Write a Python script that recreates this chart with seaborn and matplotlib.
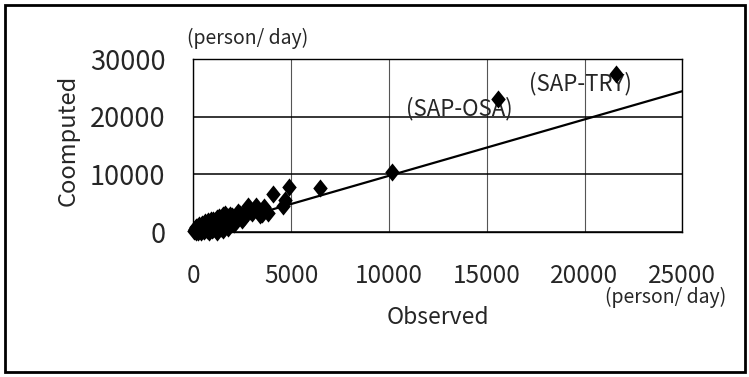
import numpy as np
import pandas as pd
import matplotlib
matplotlib.use("Agg")
import matplotlib.pyplot as plt
import seaborn as sns
from matplotlib.patches import Rectangle
from matplotlib.path import Path

# ---- data ----
observed = [50, 80, 100, 120, 150, 200, 200, 250, 300, 300, 350, 400, 400, 450,
            500, 500, 550, 600, 600, 700, 700, 750, 800, 800, 900, 900, 950,
            1000, 1000, 1100, 1100, 1150, 1200, 1200, 1300, 1300, 1400, 1400,
            1500, 1500, 1600, 1600, 1700, 1700, 1800, 1800, 1900, 2000, 2000,
            2100, 2200, 2300, 2400, 2500, 2600, 2700, 2800, 2900, 3000, 3200,
            3300, 3400, 3500, 3600, 3800, 4100, 4600, 4700, 4900, 6500, 10150,
            15600, 21600]
computed = [200, 600, 400, 100, 900, 300, 900, 50, 1200, 700, 500, 100, 1100, 1500,
            800, 300, 200, 1300, 1800, 400, 1000, 1900, 1000, 0, 1600, 2200, 300,
            2100, 600, 1200, 1900, 600, 2500, 100, 1700, 2700, 800, 1500,
            2900, 300, 2000, 3200, 1200, 2300, 2600, 700, 3000, 1800, 2800,
            1500, 2400, 3500, 3200, 2200, 2600, 3700, 4600, 3600, 3400, 4600,
            3900, 2900, 3100, 4300, 3300, 6700, 4600, 5600, 7800, 7700, 10500,
            23100, 27400]
fit_x = [0, 25000]
fit_slope = 0.977
labels = ["(SAP-OSA)", "(SAP-TRY)"]
label_x = [13600, 19800]
label_y = [21400, 25700]
x_ticks = [0, 5000, 10000, 15000, 20000, 25000]
y_ticks = [0, 10000, 20000, 30000]
unit = "(person/ day)"

df = pd.DataFrame({"Observed": observed, "Computed": computed})
fit_df = pd.DataFrame({"x": fit_x, "y": [fit_slope * v for v in fit_x]})

sns.set_theme(style="white")
plt.rcParams["font.family"] = ["Noto Sans CJK JP", "DejaVu Sans"]

fig = plt.figure(figsize=(7.49, 3.77), dpi=100)
ax = fig.add_axes([0.258, 0.384, 0.653, 0.4595])

diamond = Path([(0, 1), (0.8, 0), (0, -1), (-0.8, 0), (0, 1)],
               [Path.MOVETO, Path.LINETO, Path.LINETO, Path.LINETO, Path.CLOSEPOLY])

sns.lineplot(data=fit_df, x="x", y="y", ax=ax, color="black", linewidth=1.6, zorder=3)
sns.scatterplot(data=df, x="Observed", y="Computed", ax=ax, marker=diamond,
                s=170, color="black", edgecolor="black", linewidth=0, zorder=4,
                clip_on=False)

for t, tx, ty in zip(labels, label_x, label_y):
    ax.text(tx, ty, t, fontsize=16, va="center", ha="center", zorder=2)

ax.set_xlim(0, 25000)
ax.set_ylim(0, 30000)
ax.set_xticks(x_ticks)
ax.set_yticks(y_ticks)
ax.set_xticklabels([str(v) for v in x_ticks], fontsize=17.5)
ax.set_yticklabels([str(v) for v in y_ticks], fontsize=19.5)
ax.tick_params(axis="x", length=0, pad=22)
ax.tick_params(axis="y", length=0, pad=20)

ax.set_xlabel("Observed", fontsize=16.5)
ax.set_ylabel("Coomputed", fontsize=17)
ax.xaxis.set_label_coords(0.5, -0.423)
ax.yaxis.set_label_coords(-0.232, 0.533)

ax.xaxis.grid(True, color="#555555", linewidth=0.8)
ax.yaxis.grid(True, color="black", linewidth=1.1)
ax.set_axisbelow(True)
for sp in ax.spines.values():
    sp.set_visible(True)
    sp.set_color("black")
    sp.set_linewidth(1.0)
    sp.set_linestyle((0, (1, 1)))

fig.text(0.249, 0.899, unit, fontsize=14, ha="left", va="center")
fig.text(0.808, 0.21, unit, fontsize=14, ha="left", va="center")

fig.patches.append(Rectangle((0.007, 0.012), 0.988, 0.975, transform=fig.transFigure,
                             fill=False, edgecolor="black", linewidth=2))

fig.savefig("out.png", dpi=100)
